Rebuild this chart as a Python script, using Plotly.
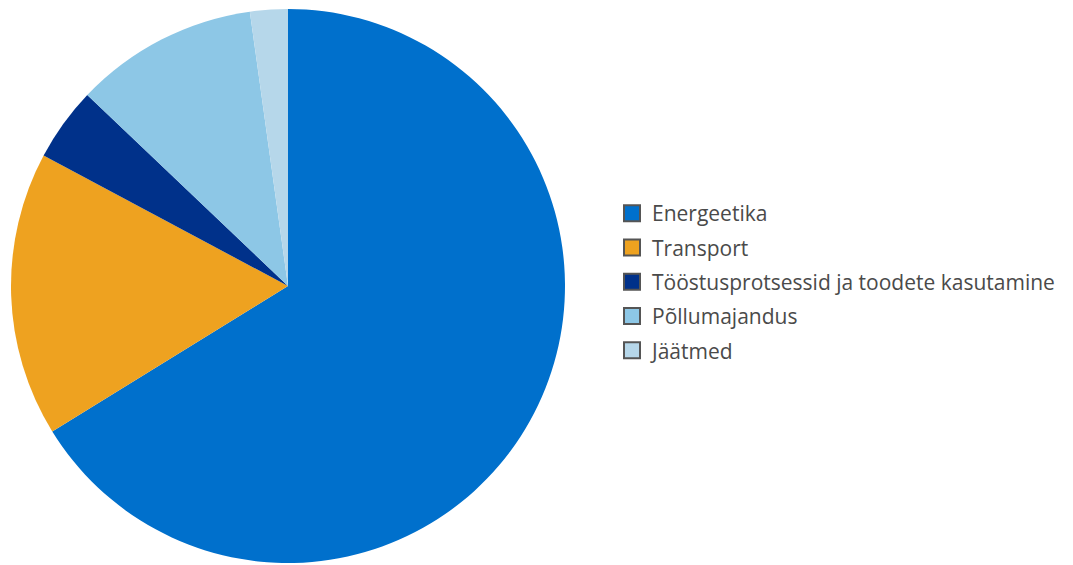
import plotly.graph_objects as go

labels = ["Energeetika", "Transport", "Tööstusprotsessid ja toodete kasutamine", "Põllumajandus", "Jäätmed"]
values = [66.2, 16.6, 4.3, 10.7, 2.2]
colors = ["#0070cc", "#eea220", "#00318a", "#8dc7e6", "#b6d7ea"]

W, H = 1073, 565
fig = go.Figure()
fig.add_trace(go.Pie(
    labels=labels, values=values, sort=False, direction="clockwise", rotation=0,
    marker=dict(colors=colors, line=dict(width=0)),
    textinfo="none", hoverinfo="label+percent", showlegend=False,
    domain=dict(x=[10 / W, 566 / W], y=[2 / H, 556 / H]),
))
for i, (lab, col) in enumerate(zip(labels, colors)):
    fig.add_trace(go.Scatter(
        x=[None], y=[None], mode="markers", name=lab, legendgroup=str(i),
        marker=dict(symbol="square", size=18, color=col, line=dict(width=2, color="#555555")),
        showlegend=True,
    ))
fig.update_layout(
    width=W, height=H, margin=dict(l=0, r=0, t=0, b=0),
    paper_bgcolor="white", plot_bgcolor="white",
    xaxis=dict(visible=False), yaxis=dict(visible=False),
    legend=dict(x=612 / W, xanchor="left", y=1 - 282 / H, yanchor="middle",
                font=dict(family="Open Sans, sans-serif", size=21, color="#4a4a4a"),
                tracegroupgap=4, traceorder="grouped", bgcolor="rgba(0,0,0,0)"),
)
fig.write_html("out.html")
